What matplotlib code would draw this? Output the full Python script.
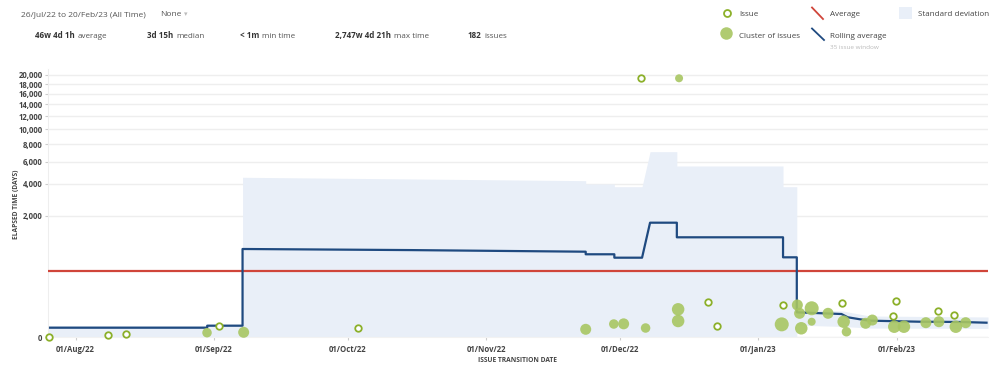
import numpy as np
import pandas as pd
import matplotlib
matplotlib.use('Agg')
import matplotlib.pyplot as plt
import matplotlib.dates as mdates
from matplotlib.lines import Line2D
from matplotlib.patches import Rectangle
from matplotlib.ticker import FuncFormatter

plt.rcParams['font.family'] = ['Open Sans', 'DejaVu Sans']

# ---- data (elapsed time in days) ----
average_days = 326.04  # 46w 4d 1h

roll_dates = ['2022-07-26 07:00', '2022-08-30 12:00', '2022-08-30 12:00', '2022-09-07 10:00',
              '2022-09-07 10:00', '2022-10-15 00:00', '2022-11-23 07:00', '2022-11-23 07:00',
              '2022-11-29 17:00', '2022-11-29 17:00', '2022-12-05 22:00', '2022-12-07 17:00',
              '2022-12-13 17:00', '2022-12-13 17:00', '2023-01-06 12:00', '2023-01-06 12:00',
              '2023-01-09 14:00', '2023-01-09 14:00', '2023-01-19 14:00', '2023-01-21 00:00',
              '2023-01-23 17:00', '2023-01-25 22:00', '2023-02-06 02:00', '2023-02-15 02:00',
              '2023-02-21 02:00']
roll_days = [0.98, 0.98, 1.73, 1.73,
             763, 735, 695, 634,
             634, 559, 559, 1668,
             1668, 1108, 1108, 567,
             567, 17.3, 14.0, 8.9,
             6.5, 5.1, 4.2, 4.0,
             3.45]

std_dates = ['2022-07-25 20:00', '2022-08-30 12:00', '2022-08-30 12:00', '2022-09-07 10:00',
             '2022-09-07 10:00', '2022-11-23 07:00', '2022-11-23 07:00', '2022-11-29 17:00',
             '2022-11-29 17:00', '2022-12-05 22:00', '2022-12-07 17:00', '2022-12-13 17:00',
             '2022-12-13 17:00', '2023-01-06 12:00', '2023-01-06 12:00', '2023-01-09 14:00',
             '2023-01-09 14:00', '2023-01-20 00:00', '2023-01-25 22:00', '2023-02-21 10:00']
std_upper = [1.8, 1.8, 2.6, 2.6,
             4540, 4258, 3993, 3993,
             3786, 3786, 7087, 7087,
             5572, 5572, 3786, 3786,
             25.0, 20.0, 10.7, 9.3]
std_lower = [0, 0, 0, 0,
             0, 0, 0, 0,
             0, 0, 0, 0,
             0, 0, 0, 0,
             2.0, 1.4, 0.87, 0.77]

issue_dates = ['2022-07-26 02:00', '2022-08-08 08:00', '2022-08-12 05:00', '2022-09-02 05:00',
               '2022-10-03 07:00', '2022-12-05 19:00', '2022-12-20 19:00', '2022-12-22 17:00',
               '2023-01-06 14:00', '2023-01-19 17:00', '2023-01-31 22:00', '2023-01-31 05:00',
               '2023-02-10 05:00', '2023-02-13 19:00']
issue_days = [0, 0.01, 0.04, 1.73,
              0.98, 19256, 48.8, 1.73,
              37.4, 45.9, 54.3, 10.7,
              20.9, 12.8]

cluster_dates = ['2022-08-30 11:00', '2022-09-07 16:00', '2022-11-23 07:00', '2022-11-29 14:00',
                 '2022-12-01 19:00', '2022-12-06 17:00', '2022-12-14 00:00', '2022-12-14 00:00',
                 '2022-12-14 05:00', '2023-01-06 05:00', '2023-01-09 17:00', '2023-01-10 05:00',
                 '2023-01-10 14:00', '2023-01-12 22:00', '2023-01-12 22:00', '2023-01-16 14:00',
                 '2023-01-20 02:00', '2023-01-20 17:00', '2023-01-25 00:00', '2023-01-26 12:00',
                 '2023-01-31 10:00', '2023-02-02 14:00', '2023-02-07 12:00', '2023-02-10 10:00',
                 '2023-02-14 05:00', '2023-02-16 10:00']
cluster_days = [0.108, 0.138, 0.567, 2.6,
                2.7, 0.89, 24.3, 4.8,
                19256, 2.4, 37.4, 15.3,
                0.81, 27.1, 4.2, 15.3,
                4.2, 0.19, 3.04, 5.7,
                1.32, 1.32, 3.45, 4.2,
                1.32, 3.45]
cluster_counts = [3, 4, 4, 3,
                  4, 3, 5, 5,
                  2, 6, 4, 4,
                  5, 6, 2, 4,
                  5, 3, 4, 4,
                  5, 5, 4, 4,
                  5, 4]

y_ticks = [0, 2000, 4000, 6000, 8000, 10000, 12000, 14000, 16000, 18000, 20000]
x_ticks = ['2022-08-01', '2022-09-01', '2022-10-01', '2022-11-01',
           '2022-12-01', '2023-01-01', '2023-02-01']

# ---- colours ----
c_roll = '#1f4a80'
c_avg = '#d0453a'
c_std = '#e9eff8'
c_issue = '#8cb02a'
c_cluster = '#a8c662'
c_text = '#444444'
c_grid = '#eeeeee'

W, H = 999, 366
fig = plt.figure(figsize=(W / 100, H / 100), dpi=100)


def fx(px):
    return px / W


def fy(py):
    return 1 - py / H


# plot area in pixel coordinates
left, right, top, bottom = 48, 988, 69, 337.3
ax = fig.add_axes([fx(left), fy(bottom), fx(right - left), (bottom - top) / H])

ax.set_yscale('function', functions=(np.cbrt, lambda v: v ** 3))

rd = pd.to_datetime(roll_dates)
sd = pd.to_datetime(std_dates)
idt = pd.to_datetime(issue_dates)
cd = pd.to_datetime(cluster_dates)

ax.fill_between(sd, std_lower, std_upper, color=c_std, lw=0, zorder=1)
ax.axhline(average_days, color=c_avg, lw=1.6, zorder=3)
ax.plot(rd, roll_days, color=c_roll, lw=1.6, zorder=4)

radius_px = 2.5 + 0.75 * np.array(cluster_counts)
ax.scatter(cd, cluster_days, s=(2 * radius_px * 0.72) ** 2, color=c_cluster,
           alpha=0.9, lw=0, zorder=5, clip_on=False)
ax.scatter(idt, issue_days, s=22, facecolor='white', edgecolor=c_issue,
           lw=1.3, zorder=6, clip_on=False)

ax.set_xlim(pd.Timestamp('2022-07-25 20:00'), pd.Timestamp('2023-02-21 10:00'))
ax.set_ylim(0, 21400)
ax.set_yticks(y_ticks)
ax.yaxis.set_major_formatter(FuncFormatter(lambda v, p: f'{int(v):,}'))
ax.set_xticks(pd.to_datetime(x_ticks))
ax.xaxis.set_major_formatter(mdates.DateFormatter('%d/%b/%y'))

ax.grid(axis='y', color=c_grid, lw=1)
ax.set_axisbelow(True)
for s in ['top', 'right']:
    ax.spines[s].set_visible(False)
ax.spines['left'].set_color('#eeeeee')
ax.spines['bottom'].set_color('#f2f2f2')
ax.tick_params(axis='both', colors='#cccccc', length=2.5, width=0.8,
               labelcolor=c_text, labelsize=5.6, pad=1.5)
ax.tick_params(axis='x', pad=3)
for lbl in ax.get_xticklabels() + ax.get_yticklabels():
    lbl.set_fontweight('bold')

fig.text(fx(17), fy(204), 'ELAPSED TIME (DAYS)', rotation=90, ha='center', va='center',
         fontsize=4.8, fontweight='bold', color=c_text)
fig.text(fx(518), fy(360), 'ISSUE TRANSITION DATE', ha='center', va='center',
         fontsize=4.8, fontweight='bold', color=c_text)

# ---- header ----
row1, row2 = 16.3, 37.8  # text baselines
fig.text(fx(21), fy(row1), '26/Jul/22 to 20/Feb/23 (All Time)', fontsize=6.0,
         color='#555555', va='baseline')
fig.text(fx(160), fy(row1), 'None', fontsize=6.0, color='#555555', va='baseline')
fig.text(fx(184), fy(row1), '\u25be', fontsize=5, color='#bbbbbb', va='baseline')

renderer = fig.canvas.get_renderer()
stats = [(35, '46w 4d 1h', 'average'),
         (147, '3d 15h', 'median'),
         (240, '< 1m', 'min time'),
         (335, '2,747w 4d 21h', 'max time'),
         (468, '182', 'issues')]
for xb, b, n in stats:
    t = fig.text(fx(xb), fy(row2), b, fontsize=5.8, fontweight='bold', color='#333333',
                 va='baseline')
    wb = t.get_window_extent(renderer).width
    fig.text(fx(xb + wb + 3), fy(row2), n, fontsize=5.8, color='#555555', va='baseline')

# ---- legend ----
fig.add_artist(Line2D([fx(727)], [fy(13.3)], marker='o', ms=5, mfc='white',
                      mec=c_issue, mew=1.3, transform=fig.transFigure))
fig.add_artist(Line2D([fx(726)], [fy(33.3)], marker='o', ms=9, mfc=c_cluster,
                      mec='none', alpha=0.9, transform=fig.transFigure))
fig.text(fx(739), fy(row1), 'Issue', fontsize=5.8, color='#444444', va='baseline')
fig.text(fx(739), fy(row2), 'Cluster of issues', fontsize=5.8, color='#444444', va='baseline')

fig.add_artist(Line2D([fx(812), fx(823)], [fy(7.5), fy(19)], color=c_avg, lw=1.3,
                      transform=fig.transFigure))
fig.add_artist(Line2D([fx(812), fx(824)], [fy(28.5), fy(40)], color=c_roll, lw=1.3,
                      transform=fig.transFigure))
fig.text(fx(830), fy(row1), 'Average', fontsize=5.8, color='#444444', va='baseline')
fig.text(fx(830), fy(row2), 'Rolling average', fontsize=5.8, color='#444444', va='baseline')
fig.text(fx(830), fy(49), '35 issue window', fontsize=4.6, color='#bbbbbb', va='baseline')

fig.add_artist(Rectangle((fx(899), fy(19)), fx(13), 12 / H, color=c_std, lw=0,
                         transform=fig.transFigure))
fig.text(fx(918), fy(row1), 'Standard deviation', fontsize=5.8, color='#444444',
         va='baseline')

fig.savefig('out.png', dpi=100)
